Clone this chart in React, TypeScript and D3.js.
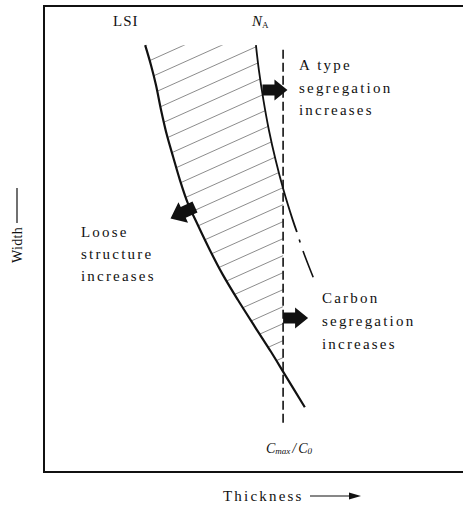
import React from "react";
import * as d3 from "d3";

// Curves in abstract units: thickness (x, 0-100) and width (y, 0-100)
const lsiThickness = [24.2, 25.6, 26.8, 28.0, 29.4, 30.9, 32.5, 34.4, 36.8, 39.7, 42.8, 46.4, 50.5, 54.3, 57.7, 62.4];
const lsiWidth = [91.6, 87.3, 83.0, 77.7, 72.3, 67.6, 62.7, 57.7, 53.0, 47.6, 42.3, 36.9, 31.1, 25.8, 20.8, 13.9];

const naThickness = [50.7, 51.4, 52.5, 53.8, 55.4, 57.3, 59.5, 60.5];
const naWidth = [91.6, 86.3, 79.8, 73.4, 67.0, 60.5, 54.1, 51.5];
const naTailThickness = [60.5, 61.9, 64.4];
const naTailWidth = [51.5, 47.6, 41.8];

const cmaxThickness = 57.2;
const cmaxWidthRange = [90.6, 9.7];

const W = 463;
const H = 511;

const x = d3.scaleLinear().domain([0, 100]).range([44, 462]);
const y = d3.scaleLinear().domain([0, 100]).range([472, 6]);

type P = [number, number];
const toPts = (xs: number[], ys: number[]): P[] => xs.map((v, i) => [x(v), y(ys[i])]);

const lsiPts = toPts(lsiThickness, lsiWidth);
const naPts = toPts(naThickness, naWidth);
const naTailPts = toPts(naTailThickness, naTailWidth);
const dashX = x(cmaxThickness);

const smooth = d3.line<P>().x((d) => d[0]).y((d) => d[1]).curve(d3.curveCatmullRom.alpha(0.5));

// crossing of a polyline with vertical x = dashX
function crossing(pts: P[]): { idx: number; pt: P } {
  for (let i = 0; i < pts.length - 1; i++) {
    const a = pts[i], b = pts[i + 1];
    if ((a[0] - dashX) * (b[0] - dashX) <= 0 && a[0] !== b[0]) {
      const t = (dashX - a[0]) / (b[0] - a[0]);
      return { idx: i, pt: [dashX, a[1] + t * (b[1] - a[1])] };
    }
  }
  return { idx: pts.length - 1, pt: pts[pts.length - 1] };
}

const lsiCross = crossing(lsiPts);
const naCross = crossing(naPts);
const clipPoly: P[] = [
  ...lsiPts.slice(0, lsiCross.idx + 1),
  lsiCross.pt,
  naCross.pt,
  ...naPts.slice(0, naCross.idx + 1).reverse(),
];
const clipD = "M" + clipPoly.map((p) => p.join(",")).join("L") + "Z";

// hatch lines: py = c - k*px
const k = 0.45;
const hatchOffsets = d3.range(-16, 10).map((i) => 349 + 17 * i);

const arrowPath = "M0,-5.5L12,-5.5L12,-10.5L25,0L12,10.5L12,5.5L0,5.5Z";

const font = "'Liberation Serif', 'DejaVu Serif', 'Times New Roman', serif";
const ink = "#111";

export default function App() {
  const textStyle: React.CSSProperties = { fontFamily: font, fontSize: 15, letterSpacing: 2.2, fill: ink };
  return (
    <div style={{ position: "absolute", left: 0, top: 0 }}>
      <svg width={W} height={H} style={{ display: "block", background: "#fff" }}>
        <defs>
          <clipPath id="hatchClip">
            <path d={clipD} />
          </clipPath>
        </defs>
        <rect x={44} y={6} width={430} height={466} fill="none" stroke={ink} strokeWidth={2} />

        <g clipPath="url(#hatchClip)">
          {hatchOffsets.map((c, i) => (
            <line key={i} x1={100} y1={c - k * 100} x2={320} y2={c - k * 320} stroke="#666" strokeWidth={0.75} />
          ))}
        </g>

        <path d={smooth(lsiPts) || ""} fill="none" stroke={ink} strokeWidth={2.2} />
        <path d={smooth(naPts) || ""} fill="none" stroke={ink} strokeWidth={1.8} />
        <path d={smooth(naTailPts) || ""} fill="none" stroke={ink} strokeWidth={1.6} strokeDasharray="0 8 3 9 60" />
        <line x1={dashX} x2={dashX} y1={y(cmaxWidthRange[0])} y2={y(cmaxWidthRange[1])} stroke={ink} strokeWidth={1.6} strokeDasharray="9 4" />

        <path d={arrowPath} transform={`translate(${naPts[2][0] - 1},90)`} fill={ink} />
        <path d={arrowPath} transform={`translate(${dashX},318)`} fill={ink} />
        <path d={arrowPath} transform="translate(195,207) rotate(155) scale(1.08)" fill={ink} />

        <text x={113} y={26} style={{ ...textStyle, letterSpacing: 1 }}>LSI</text>
        <text x={252} y={26} style={{ fontFamily: font, fontSize: 15, fill: ink, fontStyle: "italic" }}>
          N<tspan fontSize={9} dy={2} fontStyle="normal">A</tspan>
        </text>

        <text x={299} y={70} style={textStyle}>A  type</text>
        <text x={299} y={93} style={textStyle}>segregation</text>
        <text x={299} y={115} style={textStyle}>increases</text>

        <text x={81} y={237} style={textStyle}>Loose</text>
        <text x={81} y={259} style={textStyle}>structure</text>
        <text x={81} y={281} style={textStyle}>increases</text>

        <text x={322} y={303} style={textStyle}>Carbon</text>
        <text x={322} y={326} style={textStyle}>segregation</text>
        <text x={322} y={349} style={textStyle}>increases</text>

        <text x={266} y={453} style={{ fontFamily: font, fontSize: 14, fill: ink, fontStyle: "italic" }}>
          C<tspan fontSize={9} dy={1}>max</tspan>
          <tspan dy={-1} dx={2}>/</tspan>
          <tspan dx={2}>C</tspan>
          <tspan fontSize={9} dy={1}>0</tspan>
        </text>

        <text x={223} y={501} style={textStyle}>Thickness</text>
        <line x1={310} x2={352} y1={496} y2={496} stroke={ink} strokeWidth={1.2} />
        <path d="M349,492.5L361,496L349,499.5Z" fill={ink} />

        <text transform="translate(22,263) rotate(-90)" style={{ ...textStyle, fontSize: 14, letterSpacing: 0.3 }}>Width</text>
        <line x1={17} x2={17} y1={188} y2={223} stroke={ink} strokeWidth={1.2} />
      </svg>
    </div>
  );
}
